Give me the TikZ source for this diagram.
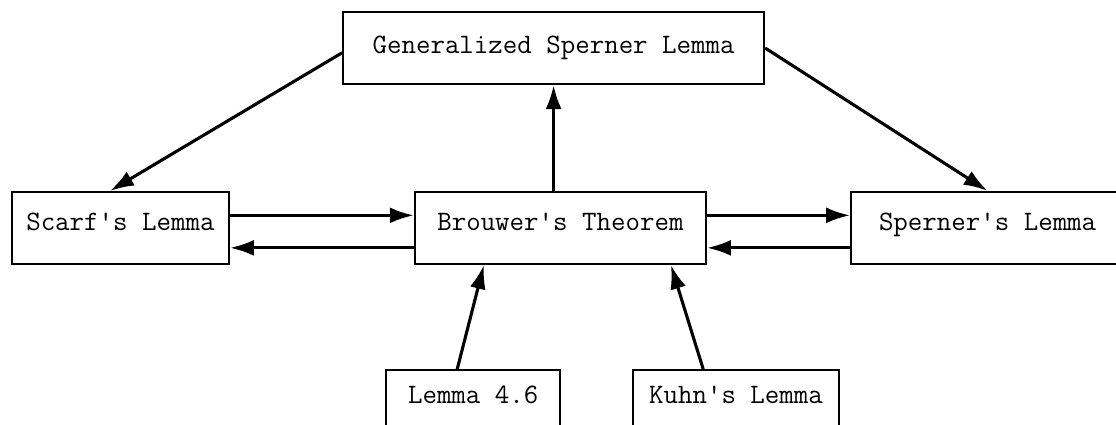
\documentclass[tikz,border=0pt]{standalone}
\usepackage{tikz}
\usetikzlibrary{calc}
\usetikzlibrary{arrows.meta}

\begin{document}
\begin{tikzpicture}[
	theoremBox/.style = {draw, line width = 1.5pt, minimum height = 1.8cm, inner sep = 0pt,
		font = \fontsize{20}{24}\selectfont\ttfamily},
	rowBox/.style = {theoremBox, text height = 0.3cm, text depth = 0.18cm},
	implies/.style = {-{Latex[length = 0.6cm, width = 0.4cm]}, line width = 2.2pt}
	]

	% frame of the page, the right and lower boxes run past it
	\useasboundingbox (0,0) rectangle (27.9,-10.625);
	\clip (0,0) rectangle (27.9,-10.625);

	% top box
	\node [theoremBox, minimum width = 10.525cm] (generalized) at (13.84,-1.2) {Generalized Sperner Lemma};

	% middle row
	\def \rowHeight {-5.7};
	\node [rowBox, minimum width = 5.425cm] (scarf) at (3.01,\rowHeight) {Scarf's Lemma};
	\node [rowBox, minimum width = 7.275cm] (brouwer) at (14.01,\rowHeight) {Brouwer's Theorem};
	\node [rowBox, minimum width = 6.825cm] (sperner) at (24.69,\rowHeight) {Sperner's Lemma};

	% lower row
	\def \lowHeight {-10.03};
	\node [rowBox, minimum height = 1.55cm, minimum width = 4.35cm] (lemmaFourSix) at (11.83,\lowHeight) {Lemma 4.6};
	\node [rowBox, minimum height = 1.55cm, minimum width = 5.15cm] (kuhn) at (18.4,\lowHeight) {Kuhn's Lemma};

	% arrows from the top box down to the sides
	\draw [implies] ([yshift = -0.12cm]generalized.west) -- ([xshift = -0.26cm]scarf.north);
	\draw [implies] (generalized.east) -- (sperner.north);
	\draw [implies] (brouwer.north -| generalized.south) -- (generalized.south);

	% both ways between the middle boxes
	\def \upperGap {0.61cm};
	\def \lowerGap {0.43cm};
	\draw [implies] ([yshift = -\upperGap]scarf.north east) -- ([yshift = -\upperGap]brouwer.north west);
	\draw [implies] ([yshift = \lowerGap]brouwer.south west) -- ([yshift = \lowerGap]scarf.south east);
	\draw [implies] ([yshift = -\upperGap]brouwer.north east) -- ([yshift = -\upperGap]sperner.north west);
	\draw [implies] ([yshift = \lowerGap]sperner.south west) -- ([yshift = \lowerGap]brouwer.south east);

	% lower boxes up to Brouwer
	\draw [implies] ([xshift = -0.4cm]lemmaFourSix.north) -- ([xshift = 1.75cm]brouwer.south west);
	\draw [implies] ([xshift = -0.82cm]kuhn.north) -- ([xshift = -0.9cm]brouwer.south east);

\end{tikzpicture}
\end{document}
